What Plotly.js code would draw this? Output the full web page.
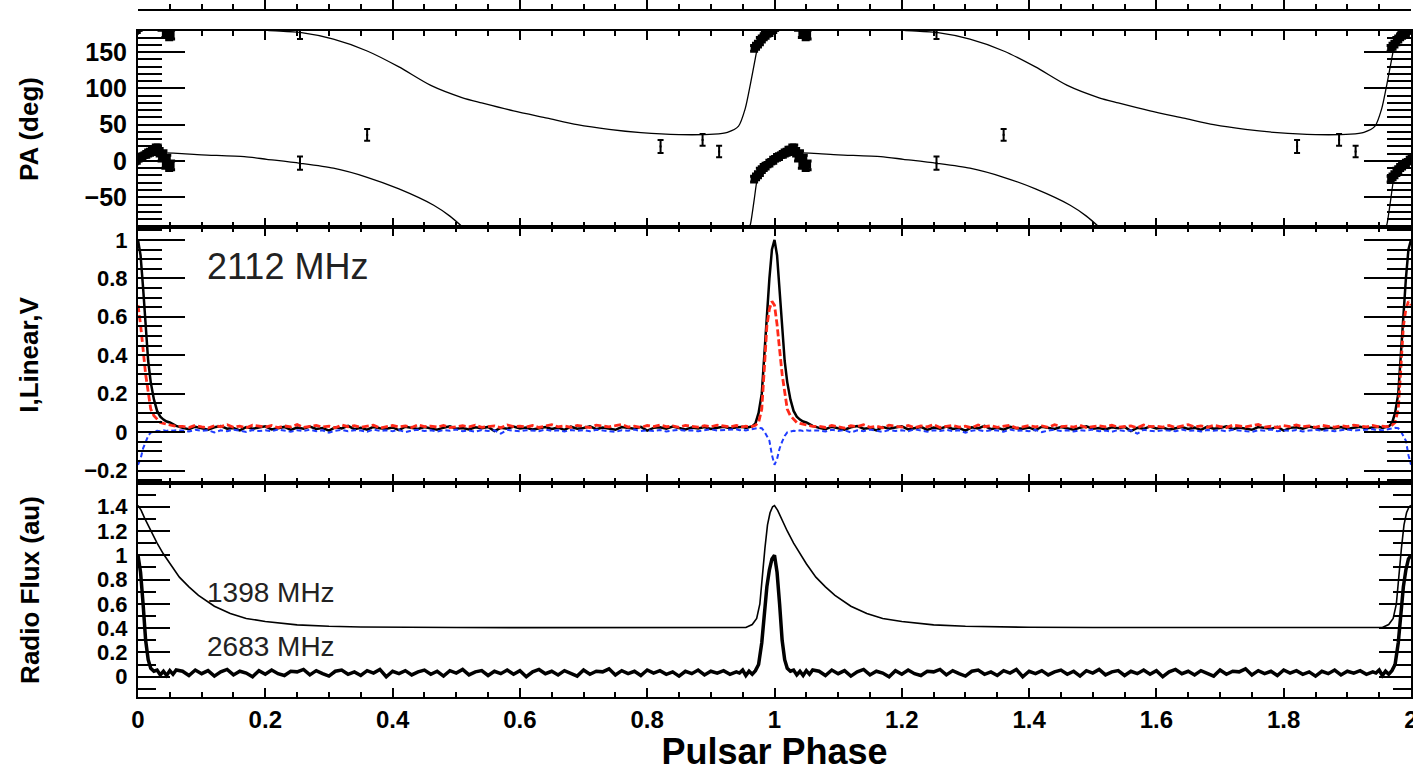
<!DOCTYPE html>
<html><head><meta charset="utf-8">
<script src="https://cdn.plot.ly/plotly-3.0.1.min.js"></script>
<style>html,body{margin:0;padding:0;background:#fff;}#chart{width:1413px;height:772px;}</style>
</head><body><div id="chart"></div>
<script>
// ---------- one rotational period of data (phase 0..1, peak at phase 0 == 1) ----------
const phaseGrid = [0,0.004,0.008,0.012,0.016,0.02,0.025,0.03,0.035,0.04,0.045,0.05,0.055,0.06,
0.07,0.08,0.09,0.10,0.11,0.12,0.13,0.14,0.15,0.16,0.17,0.18,0.19,0.20,0.21,0.22,0.23,0.24,0.25,0.26,
0.27,0.28,0.29,0.30,0.31,0.32,0.33,0.34,0.35,0.36,0.37,0.38,0.39,0.40,0.41,0.42,0.43,0.44,0.45,0.46,
0.47,0.48,0.49,0.50,0.51,0.52,0.53,0.54,0.55,0.56,0.57,0.58,0.59,0.60,0.61,0.62,0.63,0.64,0.65,0.66,
0.67,0.68,0.69,0.70,0.71,0.72,0.73,0.74,0.75,0.76,0.77,0.78,0.79,0.80,0.81,0.82,0.83,0.84,0.85,0.86,
0.87,0.88,0.89,0.90,0.91,0.92,0.93,0.94,
0.945,0.95,0.955,0.96,0.965,0.97,0.975,0.98,0.984,0.988,0.992,0.996];

// 2112 MHz total intensity I
const stokesI = [1.0,0.92,0.75,0.55,0.37,0.26,0.17,0.11,0.08,0.065,0.055,0.05,0.04,0.032,
0.022,0.015,0.028,0.019,0.012,0.025,0.031,0.018,0.021,0.009,0.026,0.017,0.023,0.030,0.014,0.020,0.027,0.011,0.024,0.018,
0.029,0.016,0.021,0.008,0.025,0.019,0.032,0.015,0.022,0.013,0.027,0.020,0.017,0.024,0.010,0.028,0.021,0.016,0.026,0.019,
0.012,0.023,0.030,0.018,0.021,0.014,0.025,0.020,0.027,0.005,0.022,0.017,0.029,0.019,0.024,0.013,0.020,0.026,0.016,0.023,
0.011,0.028,0.018,0.021,0.030,0.015,0.024,0.019,0.012,0.026,0.020,0.017,0.027,0.008,0.022,0.025,0.018,0.029,0.021,0.014,
0.024,0.019,0.026,0.016,0.023,0.028,0.020,0.025,
0.024,0.028,0.022,0.027,0.030,0.045,0.10,0.20,0.40,0.62,0.80,0.95];

// 2112 MHz linear polarisation
const linearL = [0.66,0.56,0.43,0.30,0.21,0.12,0.085,0.065,0.05,0.045,0.04,0.036,0.033,0.030,
0.030,0.024,0.035,0.027,0.021,0.033,0.028,0.038,0.025,0.031,0.022,0.036,0.029,0.026,0.034,0.023,0.032,0.027,0.039,0.024,
0.030,0.035,0.026,0.031,0.022,0.037,0.028,0.033,0.025,0.030,0.036,0.021,0.029,0.034,0.027,0.032,0.024,0.038,0.028,0.031,
0.026,0.035,0.023,0.030,0.033,0.027,0.036,0.025,0.029,0.032,0.022,0.037,0.028,0.031,0.026,0.034,0.024,0.030,0.039,0.027,
0.032,0.025,0.035,0.029,0.023,0.036,0.030,0.027,0.033,0.040,0.026,0.031,0.024,0.034,0.029,0.037,0.028,0.032,0.025,0.035,
0.030,0.026,0.033,0.028,0.036,0.031,0.027,0.034,
0.030,0.027,0.031,0.028,0.030,0.035,0.050,0.12,0.33,0.55,0.64,0.68];

// 2112 MHz circular polarisation V
const circularV = [-0.17,-0.14,-0.085,-0.05,-0.02,-0.002,0.004,0.007,0.005,0.009,0.006,0.010,0.007,0.009,
0.008,0.003,0.012,0.006,0.010,-0.002,0.009,0.005,0.013,0.007,0.001,0.011,0.006,0.009,0.004,0.014,0.008,0.002,0.010,0.006,
0.012,0.005,0.009,-0.003,0.007,0.011,0.004,0.010,0.008,0.002,0.013,0.006,0.009,0.005,0.011,0.000,0.008,0.012,0.006,0.009,
0.003,0.010,0.007,0.013,0.005,0.008,0.002,0.011,0.006,0.009,-0.008,0.012,0.007,0.004,0.010,0.008,0.005,0.013,0.006,0.009,
0.003,0.011,0.007,0.010,0.004,0.012,0.008,0.006,0.001,0.010,0.007,0.013,0.005,0.009,0.006,0.011,0.003,0.008,0.012,0.007,
0.009,0.005,0.010,0.014,0.008,0.011,0.012,0.015,
0.010,0.012,0.009,0.013,0.015,0.018,0.022,0.020,0.004,-0.020,-0.045,-0.12];

// 2683 MHz flux
const flux2683 = [1.0,0.86,0.60,0.30,0.14,0.07,0.045,0.055,0.015,0.045,0.01,0.05,0.02,0.055,
0.045,0.010,0.055,0.025,0.050,0.005,0.040,0.060,0.015,0.045,0.030,0.000,0.050,0.020,0.055,0.025,0.010,0.045,0.040,0.060,
0.015,0.050,0.025,0.005,0.045,0.055,0.020,0.040,0.010,0.050,0.030,0.060,0.000,0.045,0.025,0.050,0.015,0.040,0.055,0.020,
0.045,0.005,0.050,0.030,0.060,0.015,0.040,0.050,0.010,0.045,0.025,0.055,0.020,0.050,0.000,0.040,0.060,0.025,0.045,0.015,
0.050,0.030,0.005,0.055,0.020,0.045,0.040,0.065,0.015,0.050,0.025,0.045,0.010,0.055,0.030,0.050,0.020,0.040,0.005,0.045,
0.025,0.055,0.015,0.045,0.030,0.050,0.020,0.040,
0.03,0.055,0.01,0.045,0.02,0.05,0.10,0.28,0.55,0.74,0.88,0.97];

// 1398 MHz flux
const phase1398 = [0,0.005,0.01,0.02,0.03,0.04,0.05,0.065,0.08,0.095,0.12,0.145,0.17,0.2,0.25,0.3,0.35,0.4,0.5,0.6,0.7,0.8,0.9,0.955,0.965,0.972,0.977,0.981,0.985,0.989,0.993,0.997];
const flux1398 = [1.41,1.37,1.31,1.20,1.10,1.01,0.93,0.82,0.74,0.67,0.58,0.52,0.48,0.455,0.427,0.415,0.41,0.407,0.405,0.404,0.405,0.403,0.405,0.405,0.43,0.48,0.60,0.85,1.06,1.25,1.35,1.40];

// Position angle measurements (deg) with errors: on-pulse (dense) and off-pulse (sparse)
const paPhaseOn = [-0.032,-0.029,-0.026,-0.023,-0.020,-0.017,-0.014,-0.011,-0.008,-0.005,-0.002,0.001,0.004,0.007,0.010,0.013,0.016,0.019,0.022,0.025,0.028,0.031,0.034,0.037,0.040,0.043,0.046,0.049,0.052];
const paDegOn = [-25,-22,-19,-15,-12,-9,-7,-5,-3,-1,1,3,5,6,8,9,11,12,14,15,17,16,12,6,9,-4,2,-8,-6];
const paErrOn = [4,4,4,5,4,4,4,3,4,3,4,3,4,4,3,4,4,4,5,4,5,6,5,6,5,6,6,5,6];
const paPhaseOff = [0.2545,0.36,0.821,0.887,0.913];
const paDegOff = [-3,36,20,29,13];
const paErrOff = [9,8,9,8,8];

// Rotating-vector model curve, two branches (deg)
const upperPhase = [0.19,0.2025,0.2545,0.307,0.36,0.41,0.46,0.51,0.54,0.59,0.643,0.69,0.74,0.79,0.85,0.905,0.926,0.9435,0.954,0.962,0.970,0.977,0.982];
const upperDeg = [182,180,177,167.7,151.5,129.5,104,87,80,69,59,50,43.5,39,36.3,37,39.5,48,72,105,142,172,183];
const lowerPhase = [-0.042,-0.0375,-0.032,-0.027,-0.022,-0.015,-0.008,0,0.02,0.04,0.062,0.1,0.167,0.2025,0.2545,0.307,0.36,0.41,0.4646,0.49,0.515];
const lowerDeg = [-100,-86,-54,-24,-11,-4,2,7,10,11,10.5,8.5,6,2.3,-3.2,-10,-22.5,-38.5,-61,-76,-95];

// ---------- helpers that tile one period over phase 0..2 ----------
function twoPeriods(ph, val){
  const x=[], y=[];
  for(let k=0;k<2;k++){ for(let i=0;i<ph.length;i++){ x.push(ph[i]+k); y.push(val[i]); } }
  x.push(2); y.push(val[0]);
  return {x, y};
}
function repeatCurve(ph, val, offsets){
  const x=[], y=[];
  offsets.forEach(k=>{ ph.forEach((p,i)=>{ x.push(p+k); y.push(val[i]); }); x.push(null); y.push(null); });
  return {x, y};
}
function wrapPoints(ph, deg, err){
  const x=[], y=[], e=[];
  [0,1,2].forEach(k=>[-180,0,180].forEach(s=>ph.forEach((p,i)=>{
    const xx=p+k, yy=deg[i]+s;
    if(xx>-0.02 && xx<2.02 && yy>-110 && yy<200){ x.push(xx); y.push(yy); e.push(err[i]); }
  })));
  return {x, y, e};
}

const I2 = twoPeriods(phaseGrid, stokesI);
const L2 = twoPeriods(phaseGrid, linearL);
const V2 = twoPeriods(phaseGrid, circularV);
const F26 = twoPeriods(phaseGrid, flux2683);
const F13 = twoPeriods(phase1398, flux1398);
const UP = repeatCurve(upperPhase, upperDeg, [0,1]);
const LO = repeatCurve(lowerPhase, lowerDeg, [0,1,2]);
const PON = wrapPoints(paPhaseOn, paDegOn, paErrOn);
const POFF = wrapPoints(paPhaseOff, paDegOff, paErrOff);

const FONT = '"Liberation Sans", Arial, Helvetica, sans-serif';

const traces = [
  {x:UP.x, y:UP.y, xaxis:'x', yaxis:'y', mode:'lines', line:{color:'#000', width:1.3, shape:'spline', smoothing:0.7}, hoverinfo:'skip'},
  {x:LO.x, y:LO.y, xaxis:'x', yaxis:'y', mode:'lines', line:{color:'#000', width:1.3, shape:'spline', smoothing:0.7}, hoverinfo:'skip'},
  {x:PON.x, y:PON.y, xaxis:'x', yaxis:'y', mode:'markers', marker:{color:'#000', size:7, symbol:'square'},
   error_y:{type:'data', array:PON.e, visible:true, color:'#000', thickness:3, width:4}},
  {x:POFF.x, y:POFF.y, xaxis:'x', yaxis:'y', mode:'markers', marker:{color:'#000', size:2, symbol:'square'},
   error_y:{type:'data', array:POFF.e, visible:true, color:'#000', thickness:2, width:3}},
  {x:I2.x, y:I2.y, xaxis:'x2', yaxis:'y2', mode:'lines', name:'I', line:{color:'#000', width:2.5}},
  {x:V2.x, y:V2.y, xaxis:'x2', yaxis:'y2', mode:'lines', name:'V', line:{color:'#1f3cff', width:2, dash:'5px,3px'}},
  {x:L2.x, y:L2.y, xaxis:'x2', yaxis:'y2', mode:'lines', name:'Linear', line:{color:'#ff2a1a', width:2.8, dash:'7px,3px'}},
  {x:F13.x, y:F13.y, xaxis:'x3', yaxis:'y3', mode:'lines', name:'1398 MHz', line:{color:'#000', width:1.6}},
  {x:F26.x, y:F26.y, xaxis:'x3', yaxis:'y3', mode:'lines', name:'2683 MHz', line:{color:'#000', width:3.5}},
  {x:[], y:[], xaxis:'x4', yaxis:'y4', mode:'lines', hoverinfo:'skip'}
];

function xAx(anchor, labels){
  return {range:[0,2], domain:[0,1], anchor:anchor, showline:true, linewidth:2, linecolor:'#000',
    mirror:'ticks', ticks:'inside', ticklen:9, tickwidth:2, tickcolor:'#000', tick0:0, dtick:0.2,
    minor:{tick0:0, dtick:0.05, ticks:'inside', ticklen:5, tickwidth:2, tickcolor:'#000'},
    showgrid:false, zeroline:false, showticklabels:labels, ticklabeloverflow:'allow',
    tickfont:{family:FONT, size:24, weight:'bold', color:'#000'}};
}
function yAx(anchor, domain, range, title, size, major, minor, vals, standoff){
  return {anchor:anchor, domain:domain, range:range, showline:true, linewidth:2, linecolor:'#000',
    mirror:'ticks', ticks:'inside', ticklen:major, tickwidth:2, tickcolor:'#000',
    tickmode:'array', tickvals:vals, ticklabelstandoff:4,
    minor:{tickmode:'linear', tick0:0, dtick:minor.d, ticks:'inside', ticklen:minor.len, tickwidth:2, tickcolor:'#000'},
    showgrid:false, zeroline:false,
    tickfont:{family:FONT, size:size, weight:'bold', color:'#000'},
    title:{text:title, standoff:standoff, font:{family:FONT, size:26, weight:'bold', color:'#000'}}};
}

const x3 = xAx('y3', true);
x3.title = {text:'Pulsar Phase', standoff:27, font:{family:FONT, size:36, weight:'bold', color:'#000'}};
const x4 = xAx('y4', false);
x4.mirror = false;

const layout = {
  width:1413, height:772, margin:{l:138, r:2, t:0, b:75},
  paper_bgcolor:'#fff', plot_bgcolor:'rgba(0,0,0,0)', showlegend:false,
  font:{family:FONT, color:'#000'},
  xaxis:xAx('y', false), xaxis2:xAx('y2', false), xaxis3:x3, xaxis4:x4,
  yaxis:yAx('x', [0.6743,0.9555], [-91,179], 'PA (deg)', 25, 47, {d:10, len:24}, [-50,0,50,100,150], 38),
  yaxis2:yAx('x2', [0.307,0.6743], [-0.265,1.067], 'I,Linear,V', 22, 47, {d:0.05, len:24}, [-0.2,0,0.2,0.4,0.6,0.8,1], 38),
  yaxis3:yAx('x3', [0,0.307], [-0.167,1.595], 'Radio Flux (au)', 22, 32, {d:0.1, len:18}, [0,0.2,0.4,0.6,0.8,1,1.2,1.4], 50),
  yaxis4:{anchor:'x4', domain:[0.9871,1], range:[0,1], visible:false},
  annotations:[
    {xref:'x2', yref:'y2', x:0.105, y:0.864, text:'2112 MHz', showarrow:false, xanchor:'left', yanchor:'middle',
     font:{family:FONT, size:36, color:'#222'}},
    {xref:'x3', yref:'y3', x:0.105, y:0.69, text:'1398 MHz', showarrow:false, xanchor:'left', yanchor:'middle',
     font:{family:FONT, size:28, color:'#222'}},
    {xref:'x3', yref:'y3', x:0.105, y:0.245, text:'2683 MHz', showarrow:false, xanchor:'left', yanchor:'middle',
     font:{family:FONT, size:28, color:'#222'}}
  ]
};

Plotly.newPlot('chart', traces, layout, {staticPlot:true, displayModeBar:false});
</script></body></html>
